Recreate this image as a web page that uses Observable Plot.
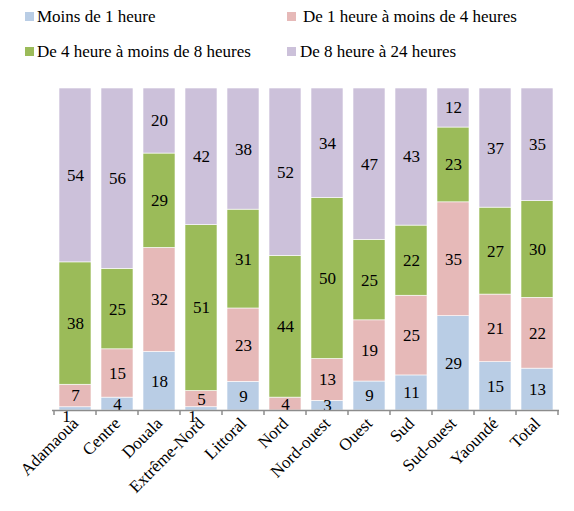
<!DOCTYPE html>
<html>
<head>
<meta charset="utf-8">
<script src="https://cdn.jsdelivr.net/npm/d3@7"></script>
<script src="https://cdn.jsdelivr.net/npm/@observablehq/plot@0.6"></script>
<style>
  body { margin: 0; background: #fff; font-family: "Liberation Serif", "Times New Roman", serif; }
  svg { display: block; }
</style>
</head>
<body>
<div id="chart"></div>
<script>
const categories = ["Adamaoua", "Centre", "Douala", "Extrême-Nord", "Littoral", "Nord", "Nord-ouest", "Ouest", "Sud", "Sud-ouest", "Yaoundé", "Total"];
const series = ["Moins de 1 heure", "De 1 heure à moins de 4 heures", "De 4 heure à moins de 8 heures", "De 8 heure à 24 heures"];
const moins1h = [1, 4, 18, 1, 9, 0, 3, 9, 11, 29, 15, 13];
const de1a4h = [7, 15, 32, 5, 23, 4, 13, 19, 25, 35, 21, 22];
const de4a8h = [38, 25, 29, 51, 31, 44, 50, 25, 22, 23, 27, 30];
const de8a24h = [54, 56, 20, 42, 38, 52, 34, 47, 43, 12, 37, 35];
const colors = ["#b9cde5", "#e6b9b8", "#9bbb59", "#ccc1da"];

const seriesValues = [moins1h, de1a4h, de4a8h, de8a24h];
const data = [];
categories.forEach((c, i) => {
  series.forEach((s, j) => data.push({cat: c, series: s, value: seriesValues[j][i]}));
});

const font = "'Liberation Serif', 'Times New Roman', serif";
const root = d3.select("#chart");

// Legend
const legend = root.append("svg").attr("width", 574).attr("height", 70)
  .style("font-family", font).style("font-size", "17px");
const legendPos = [[25, 12, 37, 22], [287, 12, 303, 22], [25, 47, 37, 57], [287, 47, 300, 57]];
series.forEach((s, j) => {
  const [sx, sy, tx, ty] = legendPos[j];
  legend.append("rect").attr("x", sx).attr("y", sy).attr("width", 9).attr("height", 9).attr("fill", colors[j]);
  legend.append("text").attr("x", tx).attr("y", ty).attr("fill", "#000").text(s);
});

const stackOpts = {x: "cat", y: "value", z: "series", order: series};
const boundaryTicks = (index, scales) => {
  const x = scales.x;
  const bw = typeof x.bandwidth === "function" ? x.bandwidth() : x.bandwidth;
  const centers = categories.map(c => x(c) + bw / 2);
  const step = centers[1] - centers[0];
  const y0 = scales.y(0);
  const g = d3.create("svg:g").attr("stroke", "#8c8c8c").attr("stroke-width", 1.5);
  const bounds = centers.map(c => c - step / 2).concat([centers[centers.length - 1] + step / 2]);
  bounds.forEach(b => g.append("line").attr("x1", b).attr("x2", b).attr("y1", y0).attr("y2", y0 + 5));
  return g.node();
};

const plot = Plot.plot({
  width: 574,
  height: 441,
  marginTop: 18,
  marginBottom: 101,
  marginLeft: 52,
  marginRight: 15,
  style: {fontFamily: font, fontSize: "17px", color: "#000", background: "transparent"},
  x: {domain: categories, paddingInner: 0.24, paddingOuter: 0.12, label: null},
  y: {domain: [0, 1], axis: null},
  color: {domain: series, range: colors},
  marks: [
    Plot.barY(data, Plot.stackY({offset: "normalize", ...stackOpts, fill: "series", stroke: "#fff", strokeWidth: 0.6})),
    Plot.text(data, Plot.stackY({offset: "normalize", ...stackOpts, text: d => d.value > 1 ? String(d.value) : "", fill: "#000", fontSize: 17})),
    Plot.text(data, Plot.stackY({offset: "normalize", ...stackOpts, text: d => d.value === 1 ? String(d.value) : "", fill: "#000", fontSize: 17, dx: -9, dy: 8})),
    Plot.ruleY([0], {stroke: "#8c8c8c", strokeWidth: 1.5}),
    boundaryTicks,
    Plot.axisX({tickSize: 0, tickRotate: -45, tickPadding: 10, fontSize: 17, label: null})
  ]
});
root.node().appendChild(plot);
</script>
</body>
</html>
